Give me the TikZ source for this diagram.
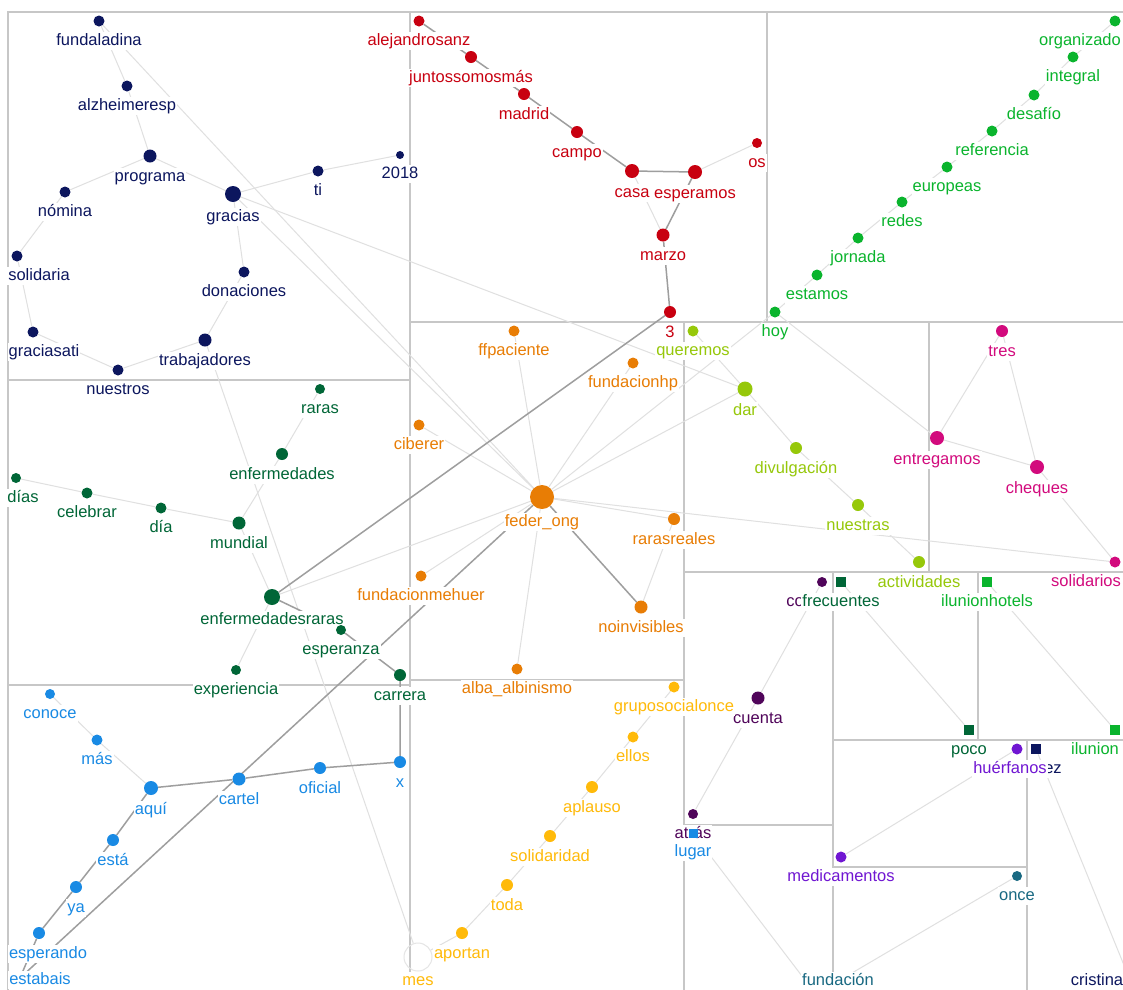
\documentclass[tikz,border=0pt]{standalone}
\usepackage{fontspec}
\setmainfont{Liberation Sans}
\pgfdeclarelayer{bg}
\pgfsetlayers{bg,main}
\definecolor{cNavy}{RGB}{12,22,94}
\definecolor{cRed}{RGB}{200,0,16}
\definecolor{cGreen}{RGB}{10,180,45}
\definecolor{cDkGreen}{RGB}{0,102,55}
\definecolor{cOrange}{RGB}{232,125,5}
\definecolor{cYellow}{RGB}{255,186,10}
\definecolor{cLime}{RGB}{150,200,10}
\definecolor{cMagenta}{RGB}{210,10,125}
\definecolor{cBlue}{RGB}{25,138,228}
\definecolor{cPlum}{RGB}{80,5,90}
\definecolor{cViolet}{RGB}{112,22,210}
\definecolor{cTeal}{RGB}{25,105,130}

\begin{document}
\begin{tikzpicture}[
    x=1pt, y=-1pt,
    wdot/.style={circle, inner sep=0pt, minimum size=11pt},
    wsq/.style={rectangle, inner sep=0pt, minimum size=10pt},
    lbl/.style={fill=white, inner sep=1pt, text height=12.5pt, text depth=3.5pt, font=\fontsize{16.5}{19}\selectfont},
    every label/.style={lbl},
    label distance=5.5pt,
    weak/.style={draw=black!12, line width=1pt},
    strong/.style={draw=black!38, line width=1.5pt},
    cell/.style={draw=black!22, line width=1.6pt}
  ]
    \useasboundingbox (0,0) rectangle (1123,989);

    % navy group
    \node[wdot, fill=cNavy, label={[text=cNavy]below:fundaladina}] (fundaladina) at (99,21) {};
    \node[wdot, fill=cNavy, label={[text=cNavy]below:alzheimeresp}] (alzheimeresp) at (127,86) {};
    \node[wdot, fill=cNavy, minimum size=13pt, label={[text=cNavy]below:programa}] (programa) at (150,156) {};
    \node[wdot, fill=cNavy, label={[text=cNavy]below:nómina}] (nomina) at (65,192) {};
    \node[wdot, fill=cNavy, minimum size=16pt, label={[text=cNavy]below:gracias}] (gracias) at (233,194) {};
    \node[wdot, fill=cNavy, label={[text=cNavy]below:ti}] (ti) at (318,171) {};
    \node[wdot, fill=cNavy, minimum size=8pt, label={[text=cNavy]below:2018}] (y2018) at (400,155) {};
    \node[wdot, fill=cNavy, label={[text=cNavy, xshift=22pt]below:solidaria}] (solidaria) at (17,256) {};
    \node[wdot, fill=cNavy, label={[text=cNavy]below:donaciones}] (donaciones) at (244,272) {};
    \node[wdot, fill=cNavy, label={[text=cNavy, xshift=11pt]below:graciasati}] (graciasati) at (33,332) {};
    \node[wdot, fill=cNavy, minimum size=13pt, label={[text=cNavy]below:trabajadores}] (trabajadores) at (205,340) {};
    \node[wdot, fill=cNavy, label={[text=cNavy]below:nuestros}] (nuestros) at (118,370) {};

    % red group
    \node[wdot, fill=cRed, label={[text=cRed]below:alejandrosanz}] (alejandrosanz) at (419,21) {};
    \node[wdot, fill=cRed, minimum size=12pt, label={[text=cRed]below:juntossomosmás}] (juntos) at (471,57) {};
    \node[wdot, fill=cRed, minimum size=12pt, label={[text=cRed]below:madrid}] (madrid) at (524,94) {};
    \node[wdot, fill=cRed, minimum size=12pt, label={[text=cRed]below:campo}] (campo) at (577,132) {};
    \node[wdot, fill=cRed, minimum size=14pt, label={[text=cRed]below:casa}] (casa) at (632,171) {};
    \node[wdot, fill=cRed, minimum size=14pt, label={[text=cRed]below:esperamos}] (esperamos) at (695,172) {};
    \node[wdot, fill=cRed, minimum size=10pt, label={[text=cRed]below:os}] (os) at (757,143) {};
    \node[wdot, fill=cRed, minimum size=13pt, label={[text=cRed]below:marzo}] (marzo) at (663,235) {};
    \node[wdot, fill=cRed, minimum size=12pt, label={[text=cRed]below:3}] (three) at (670,312) {};

    % green group
    \node[wdot, fill=cGreen, label={[text=cGreen, xshift=-35pt]below:organizado}] (organizado) at (1115,21) {};
    \node[wdot, fill=cGreen, label={[text=cGreen]below:integral}] (integral) at (1073,57) {};
    \node[wdot, fill=cGreen, label={[text=cGreen]below:desafío}] (desafio) at (1034,95) {};
    \node[wdot, fill=cGreen, label={[text=cGreen]below:referencia}] (referencia) at (992,131) {};
    \node[wdot, fill=cGreen, label={[text=cGreen]below:europeas}] (europeas) at (947,167) {};
    \node[wdot, fill=cGreen, label={[text=cGreen]below:redes}] (redes) at (902,202) {};
    \node[wdot, fill=cGreen, label={[text=cGreen]below:jornada}] (jornada) at (858,238) {};
    \node[wdot, fill=cGreen, label={[text=cGreen]below:estamos}] (estamos) at (817,275) {};
    \node[wdot, fill=cGreen, label={[text=cGreen]below:hoy}] (hoy) at (775,312) {};

    % orange group
    \node[wdot, fill=cOrange, label={[text=cOrange]below:ffpaciente}] (ffpaciente) at (514,331) {};
    \node[wdot, fill=cOrange, label={[text=cOrange]below:fundacionhp}] (fundacionhp) at (633,363) {};
    \node[wdot, fill=cOrange, label={[text=cOrange]below:ciberer}] (ciberer) at (419,425) {};
    \node[wdot, fill=cOrange, minimum size=24pt, label={[text=cOrange, yshift=2pt]below:feder\_ong}] (feder) at (542,497) {};
    \node[wdot, fill=cOrange, minimum size=12pt, label={[text=cOrange]below:rarasreales}] (rarasreales) at (674,519) {};
    \node[wdot, fill=cOrange, label={[text=cOrange]below:fundacionmehuer}] (fundacionmehuer) at (421,576) {};
    \node[wdot, fill=cOrange, minimum size=13pt, label={[text=cOrange]below:noinvisibles}] (noinvisibles) at (641,607) {};
    \node[wdot, fill=cOrange, label={[text=cOrange]below:alba\_albinismo}] (alba) at (517,669) {};

    % dark green group
    \node[wdot, fill=cDkGreen, minimum size=10pt, label={[text=cDkGreen]below:raras}] (raras) at (320,389) {};
    \node[wdot, fill=cDkGreen, minimum size=12pt, label={[text=cDkGreen]below:enfermedades}] (enfermedades) at (282,454) {};
    \node[wdot, fill=cDkGreen, minimum size=10pt, label={[text=cDkGreen, xshift=7pt]below:días}] (dias) at (16,478) {};
    \node[wdot, fill=cDkGreen, label={[text=cDkGreen]below:celebrar}] (celebrar) at (87,493) {};
    \node[wdot, fill=cDkGreen, label={[text=cDkGreen]below:día}] (dia) at (161,508) {};
    \node[wdot, fill=cDkGreen, minimum size=13pt, label={[text=cDkGreen]below:mundial}] (mundial) at (239,523) {};
    \node[wdot, fill=cDkGreen, minimum size=16pt, label={[text=cDkGreen]below:enfermedadesraras}] (enfraras) at (272,597) {};
    \node[wdot, fill=cDkGreen, minimum size=10pt, label={[text=cDkGreen]below:esperanza}] (esperanza) at (341,630) {};
    \node[wdot, fill=cDkGreen, minimum size=10pt, label={[text=cDkGreen]below:experiencia}] (experiencia) at (236,670) {};
    \node[wdot, fill=cDkGreen, minimum size=12pt, label={[text=cDkGreen]below:carrera}] (carrera) at (400,675) {};

    % blue group
    \node[wdot, fill=cBlue, minimum size=10pt, label={[text=cBlue]below:conoce}] (conoce) at (50,694) {};
    \node[wdot, fill=cBlue, label={[text=cBlue]below:más}] (mas) at (97,740) {};
    \node[wdot, fill=cBlue, minimum size=14pt, label={[text=cBlue]below:aquí}] (aqui) at (151,788) {};
    \node[wdot, fill=cBlue, minimum size=13pt, label={[text=cBlue]below:cartel}] (cartel) at (239,779) {};
    \node[wdot, fill=cBlue, minimum size=12pt, label={[text=cBlue]below:oficial}] (oficial) at (320,768) {};
    \node[wdot, fill=cBlue, minimum size=12pt, label={[text=cBlue]below:x}] (xx) at (400,762) {};
    \node[wdot, fill=cBlue, minimum size=12pt, label={[text=cBlue]below:está}] (esta) at (113,840) {};
    \node[wdot, fill=cBlue, minimum size=12pt, label={[text=cBlue]below:ya}] (ya) at (76,887) {};
    \node[wdot, fill=cBlue, minimum size=12pt, label={[text=cBlue, xshift=9pt]below:esperando}] (esperando) at (39,933) {};
    \node[wdot, fill=cBlue, minimum size=9pt, label={[text=cBlue, xshift=20pt, yshift=17pt]below:estabais}] (estabais) at (20,978) {};

    % yellow group
    \node[wdot, fill=cYellow, label={[text=cYellow]below:ellos}] (ellos) at (633,737) {};
    \node[wdot, fill=cYellow, minimum size=12pt, label={[text=cYellow]below:aplauso}] (aplauso) at (592,787) {};
    \node[wdot, fill=cYellow, minimum size=12pt, label={[text=cYellow]below:solidaridad}] (solidaridad) at (550,836) {};
    \node[wdot, fill=cYellow, minimum size=12pt, label={[text=cYellow]below:toda}] (toda) at (507,885) {};
    \node[wdot, fill=cYellow, minimum size=12pt, label={[text=cYellow]below:aportan}] (aportan) at (462,933) {};
    \node[circle, inner sep=0pt, minimum size=28pt, draw=black!10, line width=1pt, label={[text=cYellow, yshift=5pt]below:mes}] (mes) at (418,957) {};

    % lime group
    \node[wdot, fill=cLime, label={[text=cLime]below:queremos}] (queremos) at (693,331) {};
    \node[wdot, fill=cLime, minimum size=15pt, label={[text=cLime]below:dar}] (dar) at (745,389) {};
    \node[wdot, fill=cLime, minimum size=12pt, label={[text=cLime]below:divulgación}] (divulgacion) at (796,448) {};
    \node[wdot, fill=cLime, minimum size=12pt, label={[text=cLime]below:nuestras}] (nuestras) at (858,505) {};
    \node[wdot, fill=cLime, minimum size=12pt, label={[text=cLime]below:actividades}] (actividades) at (919,562) {};

    % magenta group
    \node[wdot, fill=cMagenta, minimum size=12pt, label={[text=cMagenta]below:tres}] (tres) at (1002,331) {};
    \node[wdot, fill=cMagenta, minimum size=14pt, label={[text=cMagenta]below:entregamos}] (entregamos) at (937,438) {};
    \node[wdot, fill=cMagenta, minimum size=14pt, label={[text=cMagenta]below:cheques}] (cheques) at (1037,467) {};
    \node[wdot, fill=cMagenta, label={[text=cMagenta, xshift=-29pt]below:solidarios}] (solidarios) at (1115,562) {};

    % small groups, bottom right
    \node[wdot, fill=cPlum, minimum size=10pt, label={[text=cPlum, xshift=-27pt]below:co}] (co) at (822,582) {};
    \node[wsq, fill=cDkGreen, label={[text=cDkGreen]below:frecuentes}] (frecuentes) at (841,582) {};
    \node[wsq, fill=cGreen, label={[text=cGreen]below:ilunionhotels}] (ilunionhotels) at (987,582) {};
    \node[wdot, fill=cPlum, minimum size=13pt, label={[text=cPlum]below:cuenta}] (cuenta) at (758,698) {};
    \node[wdot, fill=cYellow, label={[text=cYellow]below:gruposocialonce}] (gruposocialonce) at (674,687) {};
    \node[wsq, fill=cDkGreen, label={[text=cDkGreen]below:poco}] (poco) at (969,730) {};
    \node[wsq, fill=cGreen, label={[text=cGreen, xshift=-20pt]below:ilunion}] (ilunion) at (1115,730) {};
    \node[wsq, fill=cNavy, label={[text=cNavy, xshift=17pt]below:ez}] (ez) at (1036,749) {};
    \node[wdot, fill=cViolet, label={[text=cViolet, xshift=-7pt]below:huérfanos}] (huerfanos) at (1017,749) {};
    \node[wdot, fill=cPlum, minimum size=10pt, label={[text=cPlum]below:atrás}] (atras) at (693,814) {};
    \node[wsq, fill=cBlue, minimum size=9pt, label={[text=cBlue]below:lugar}] (lugar) at (693,833) {};
    \node[wdot, fill=cViolet, label={[text=cViolet]below:medicamentos}] (medicamentos) at (841,857) {};
    \node[wdot, fill=cTeal, minimum size=10pt, label={[text=cTeal]below:once}] (once) at (1017,876) {};
    \coordinate (hidden) at (805,980);
    \node[wdot, fill=cTeal, label={[text=cTeal, xshift=-2pt, yshift=19pt]below:fundación}] (fundacion) at (840,980) {};
    \node[wdot, fill=cNavy, label={[text=cNavy, xshift=-33pt, yshift=19pt]below:cristina}] (cristina) at (1130,980) {};

    \begin{pgfonlayer}{bg}
      \fill[white] (0,0) rectangle (1123,989);
      % cells
      \draw[cell] (1125,12) -- (8,12) -- (8,991);
      \draw[cell] (410,12) -- (410,991);
      \draw[cell] (767,12) -- (767,322);
      \draw[cell] (8,380) -- (410,380);
      \draw[cell] (8,685) -- (410,685);
      \draw[cell] (410,322) -- (1125,322);
      \draw[cell] (684,322) -- (684,991);
      \draw[cell] (410,680) -- (684,680);
      \draw[cell] (929,322) -- (929,572);
      \draw[cell] (684,572) -- (1125,572);
      \draw[cell] (833,572) -- (833,991);
      \draw[cell] (978,572) -- (978,740);
      \draw[cell] (833,740) -- (1125,740);
      \draw[cell] (684,825) -- (833,825);
      \draw[cell] (1027,740) -- (1027,991);
      \draw[cell] (833,867) -- (1027,867);

      % light links
      \draw[weak] (fundaladina) -- (alzheimeresp) -- (programa) -- (nomina) -- (solidaria) -- (graciasati) -- (nuestros) -- (trabajadores) -- (donaciones) -- (gracias) -- (ti) -- (y2018);
      \draw[weak] (programa) -- (gracias);
      \draw[weak] (fundaladina) -- (feder);
      \draw[weak] (gracias) -- (feder);
      \draw[weak] (gracias) -- (dar);
      \draw[weak] (trabajadores) -- (mes);
      \draw[weak] (casa) -- (marzo);
      \draw[weak] (esperamos) -- (os);
      \draw[weak] (organizado) -- (integral) -- (desafio) -- (referencia) -- (europeas) -- (redes) -- (jornada) -- (estamos) -- (hoy);
      \draw[weak] (hoy) -- (entregamos);
      \draw[weak] (hoy) -- (feder);
      \draw[weak] (feder) -- (ffpaciente);
      \draw[weak] (feder) -- (fundacionhp);
      \draw[weak] (feder) -- (ciberer);
      \draw[weak] (feder) -- (rarasreales);
      \draw[weak] (feder) -- (fundacionmehuer);
      \draw[weak] (feder) -- (alba);
      \draw[weak] (feder) -- (enfraras);
      \draw[weak] (feder) -- (solidarios);
      \draw[weak] (feder) -- (dar);
      \draw[weak] (rarasreales) -- (noinvisibles);
      \draw[weak] (raras) -- (enfermedades) -- (mundial);
      \draw[weak] (dias) -- (celebrar) -- (dia) -- (mundial) -- (enfraras);
      \draw[weak] (enfraras) -- (experiencia);
      \draw[weak] (conoce) -- (mas) -- (aqui);
      \draw[weak] (gruposocialonce) -- (ellos) -- (aplauso) -- (solidaridad) -- (toda) -- (aportan) -- (mes);
      \draw[weak] (queremos) -- (dar) -- (divulgacion) -- (nuestras) -- (actividades);
      \draw[weak] (tres) -- (entregamos) -- (cheques) -- (tres);
      \draw[weak] (cheques) -- (solidarios);
      \draw[weak] (co) -- (cuenta) -- (atras);
      \draw[weak] (frecuentes) -- (poco);
      \draw[weak] (ilunionhotels) -- (ilunion);
      \draw[weak] (huerfanos) -- (medicamentos);
      \draw[weak] (ez) -- (cristina);
      \draw[weak] (once) -- (fundacion);
      \draw[weak] (lugar) -- (hidden);

      % strong links
      \draw[strong] (alejandrosanz) -- (juntos) -- (madrid) -- (campo) -- (casa) -- (esperamos) -- (marzo) -- (three);
      \draw[strong] (three) -- (enfraras);
      \draw[strong] (feder) -- (noinvisibles);
      \draw[strong] (feder) -- (estabais);
      \draw[strong] (enfraras) -- (esperanza) -- (carrera) -- (xx);
      \draw[strong] (aqui) -- (cartel) -- (oficial) -- (xx);
      \draw[strong] (aqui) -- (esta) -- (ya) -- (esperando) -- (estabais);
    \end{pgfonlayer}
  \end{tikzpicture}
\end{document}
